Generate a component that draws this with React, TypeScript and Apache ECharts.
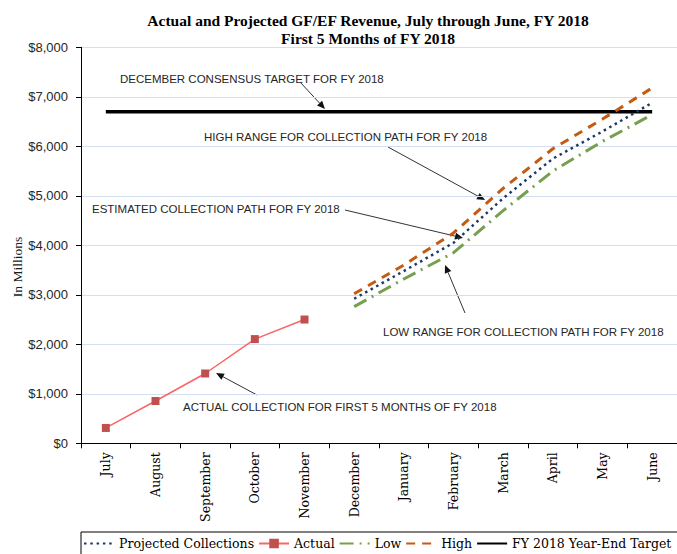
import React, { useEffect, useRef } from 'react';
import * as echarts from 'echarts';

const months = ['July', 'August', 'September', 'October', 'November', 'December', 'January', 'February', 'March', 'April', 'May', 'June'];
const actual = [310, 855, 1410, 2105, 2500, null, null, null, null, null, null, null];
const projected = [null, null, null, null, null, 2920, 3480, 4050, 4950, 5750, 6300, 6880];
const low = [null, null, null, null, null, 2760, 3320, 3850, 4700, 5500, 6100, 6640];
const high = [null, null, null, null, null, 3020, 3600, 4250, 5150, 5950, 6550, 7180];
const target = [6700, 6700, 6700, 6700, 6700, 6700, 6700, 6700, 6700, 6700, 6700, 6700];
const yMin = 0;
const yMax = 8000;
const yStep = 1000;

const titleLines = ['Actual and Projected GF/EF Revenue, July through June, FY 2018', 'First 5 Months of FY 2018'];
const annotations = [
  { text: 'DECEMBER CONSENSUS TARGET FOR FY 2018', x: 120, y: 79, from: [300, 82], to: [325, 109] },
  { text: 'HIGH RANGE FOR COLLECTION PATH FOR FY 2018', x: 204, y: 137, from: [388, 147], to: [485, 200] },
  { text: 'ESTIMATED COLLECTION PATH FOR FY 2018', x: 92, y: 209, from: [345, 210], to: [463, 238] },
  { text: 'LOW RANGE FOR COLLECTION PATH FOR FY 2018', x: 383, y: 331.5, from: [465, 313], to: [445, 265] },
  { text: 'ACTUAL COLLECTION FOR FIRST 5 MONTHS OF FY 2018', x: 183, y: 407, from: [257, 395], to: [216, 373] },
];

function arrowGraphics(from: number[], to: number[]) {
  const [x1, y1] = from;
  const [x2, y2] = to;
  const dx = x2 - x1;
  const dy = y2 - y1;
  const len = Math.hypot(dx, dy);
  const ux = dx / len;
  const uy = dy / len;
  const headLen = 8;
  const headHalf = 3.5;
  const bx = x2 - ux * headLen;
  const by = y2 - uy * headLen;
  return [
    {
      type: 'line',
      shape: { x1, y1, x2: bx, y2: by },
      style: { stroke: '#333', lineWidth: 1 },
      silent: true,
    },
    {
      type: 'polygon',
      shape: {
        points: [
          [x2, y2],
          [bx - uy * headHalf, by + ux * headHalf],
          [bx + uy * headHalf, by - ux * headHalf],
        ],
      },
      style: { fill: '#111' },
      silent: true,
    },
  ];
}

const hidden = { color: 'rgba(0,0,0,0)', borderWidth: 0, opacity: 0 };

export default function App() {
  const ref = useRef<HTMLDivElement>(null);
  useEffect(() => {
    if (!ref.current) return;
    const chart = echarts.init(ref.current, undefined, { renderer: 'svg' });
    const graphics: any[] = [];
    annotations.forEach((a) => {
      graphics.push({
        type: 'text',
        x: a.x,
        y: a.y,
        style: {
          text: a.text,
          font: '11.5px "Liberation Sans", Arial, sans-serif',
          fill: '#262626',
          textAlign: 'left',
          textVerticalAlign: 'middle',
        },
        silent: true,
      });
      graphics.push(...arrowGraphics(a.from, a.to));
    });
    graphics.push({
      type: 'text',
      x: 17,
      y: 267,
      rotation: Math.PI / 2,
      style: {
        text: 'In Millions',
        font: '13.5px "Liberation Serif", serif',
        fill: '#1a1a1a',
        textAlign: 'center',
        textVerticalAlign: 'middle',
      },
    });

    const serif = 'DejaVu Serif';
    chart.setOption({
      animation: false,
      backgroundColor: '#fff',
      title: {
        text: titleLines.join('\n'),
        left: 368,
        top: 12,
        textAlign: 'center',
        padding: 0,
        textStyle: {
          fontFamily: 'Liberation Serif',
          fontWeight: 'bold',
          fontSize: 15.5,
          lineHeight: 17.5,
          color: '#000',
        },
      },
      grid: { left: 81, right: -3, top: 47.3, bottom: 110.7, containLabel: false },
      legend: {
        left: 81,
        top: 532,
        width: 640,
        orient: 'horizontal',
        padding: [5, 12, 6, 2],
        itemGap: 4,
        itemWidth: 30,
        itemHeight: 12,
        borderColor: '#000',
        borderWidth: 1,
        textStyle: { fontFamily: serif, fontSize: 12.5, color: '#000' },
        data: [
          { name: 'Projected Collections', itemStyle: hidden },
          { name: 'Actual' },
          { name: 'Low', itemStyle: hidden },
          { name: 'High', itemStyle: hidden },
          { name: 'FY 2018 Year-End Target', itemStyle: hidden },
        ],
      },
      xAxis: {
        type: 'category',
        data: months,
        boundaryGap: true,
        axisLine: { lineStyle: { color: '#000', width: 1 } },
        axisTick: { show: true, length: 5, lineStyle: { color: '#000' } },
        axisLabel: {
          rotate: 90,
          margin: 9,
          interval: 0,
          fontFamily: serif,
          fontSize: 12.5,
          color: '#000',
        },
        splitLine: { show: false },
      },
      yAxis: {
        type: 'value',
        min: yMin,
        max: yMax,
        interval: yStep,
        axisLine: { show: true, lineStyle: { color: '#000', width: 1 } },
        axisTick: { show: true, length: 5, lineStyle: { color: '#000' } },
        axisLabel: {
          margin: 13,
          fontFamily: 'Liberation Sans',
          fontSize: 13,
          color: '#262626',
          formatter: (v: number) => '$' + v.toLocaleString('en-US'),
        },
        splitLine: { show: true, lineStyle: { color: '#D3DFF0', width: 1 } },
      },
      series: [
        {
          name: 'Projected Collections',
          type: 'line',
          data: projected,
          symbol: 'none',
          lineStyle: { color: '#1F3864', width: 2.5, type: [2.5, 3.8] },
          itemStyle: { color: '#1F3864' },
          z: 4,
        },
        {
          name: 'Actual',
          type: 'line',
          data: actual,
          symbol: 'rect',
          symbolSize: 8,
          lineStyle: { color: '#FA6464', width: 1.5 },
          itemStyle: { color: '#C0504D' },
          z: 5,
        },
        {
          name: 'Low',
          type: 'line',
          data: low,
          symbol: 'none',
          lineStyle: { color: '#76A04F', width: 3, type: [14, 6, 2, 6] },
          itemStyle: { color: '#76A04F' },
          z: 3,
        },
        {
          name: 'High',
          type: 'line',
          data: high,
          symbol: 'none',
          lineStyle: { color: '#C55A11', width: 3, type: [9, 7] },
          itemStyle: { color: '#C55A11' },
          z: 3,
        },
        {
          name: 'FY 2018 Year-End Target',
          type: 'line',
          data: target,
          symbol: 'none',
          lineStyle: { color: '#000', width: 3.5 },
          itemStyle: { color: '#000' },
          z: 2,
        },
      ],
      graphic: graphics,
    });
    return () => chart.dispose();
  }, []);
  return <div ref={ref} style={{ position: 'absolute', left: 0, top: 0, width: 677, height: 554 }} />;
}
